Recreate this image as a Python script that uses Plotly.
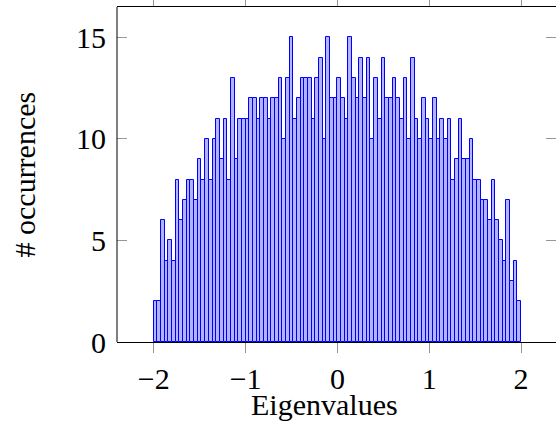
import plotly.graph_objects as go

# Histogram of eigenvalues: 100 bins on [-2, 2]
bin_start = -2.0
bin_width = 0.04
counts = [
    2, 2, 6, 4, 5, 4, 8, 6, 7, 8, 8, 7, 9, 8, 10, 8, 10, 11, 9, 11, 8, 13, 9, 11, 11,
    11, 12, 12, 11, 12, 12, 11, 12, 12, 13, 10, 13, 15, 11, 12, 13, 13, 13, 11, 13, 14, 10, 15, 12, 12,
    13, 12, 11, 15, 13, 12, 14, 12, 14, 10, 13, 11, 14, 12, 12, 13, 12, 11, 13, 10, 14, 11, 10, 12, 11,
    10, 12, 10, 11, 10, 11, 8, 9, 11, 9, 9, 10, 8, 8, 7, 7, 6, 8, 6, 5, 4, 7, 3, 4, 2,
]
centers = [bin_start + bin_width * (i + 0.5) for i in range(len(counts))]

x_ticks = [-2, -1, 0, 1, 2]
y_ticks = [0, 5, 10, 15]
x_title = "Eigenvalues"
y_title = "# occurrences"

FONT = "Liberation Serif"
TICKC = "rgb(150,150,150)"

fig = go.Figure()
fig.add_trace(go.Bar(
    x=centers, y=counts, width=bin_width,
    marker=dict(color="rgb(179,179,255)", line=dict(color="rgb(0,0,255)", width=1)),
))

fig.update_layout(
    width=556, height=421,
    margin=dict(l=117, r=0, t=7, b=79, autoexpand=False),
    paper_bgcolor="white", plot_bgcolor="white",
    showlegend=False, bargap=0,
    font=dict(family=FONT, size=31, color="black"),
    shapes=[
        dict(type="line", xref="paper", yref="paper", x0=0, x1=0, y0=0, y1=1,
             line=dict(color="black", width=1)),
    ],
    annotations=[
        dict(text=x_title, xref="paper", yref="paper", x=0.4727, y=0,
             yshift=-62, xanchor="center", yanchor="middle", showarrow=False,
             font=dict(family=FONT, size=30)),
        dict(text=y_title, xref="paper", yref="paper", x=0, y=0.5,
             xshift=-93, xanchor="center", yanchor="middle", textangle=-90,
             showarrow=False, font=dict(family=FONT, size=30)),
    ],
)
fig.update_xaxes(
    range=[-2.4, 2.38], tickvals=x_ticks, ticks="outside", ticklen=10,
    tickcolor=TICKC, tickwidth=1, showline=True, linecolor="black", linewidth=1,
    mirror="ticks", showgrid=False, zeroline=False, automargin=False,
    tickfont=dict(family=FONT, size=30), ticklabelstandoff=0,
)
fig.update_yaxes(
    range=[0, 16.5], tickvals=y_ticks, ticks="inside", ticklen=10,
    tickcolor=TICKC, tickwidth=1, showline=False, mirror="ticks",
    showgrid=False, zeroline=False, automargin=False,
    tickfont=dict(family=FONT, size=30), ticklabelstandoff=10,
)

fig.write_html("out.html", post_script="document.body.style.margin='0';",
               config={"displayModeBar": False})
